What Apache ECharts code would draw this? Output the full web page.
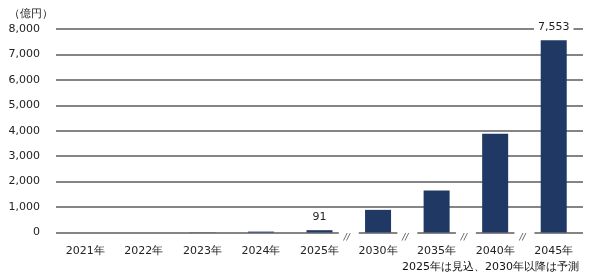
<!DOCTYPE html>
<html>
<head>
<meta charset="utf-8">
<script src="https://cdn.jsdelivr.net/npm/echarts@6/dist/echarts.min.js"></script>
<style>html,body{margin:0;padding:0;background:#fff}#c{width:590px;height:280px}</style>
</head>
<body>
<div id="c"></div>
<script>
const categories = ['2021年','2022年','2023年','2024年','2025年','2030年','2035年','2040年','2045年'];
const values = [0, 0, 8, 35, 91, 890, 1650, 3880, 7553];
const labeledIdx = [4, 8];
const breakAfter = [4, 5, 6, 7];
const unitLabel = '（億円）';
const footnote = '2025年は見込、2030年以降は予測';

const FONT = 'DejaVu Sans';
const chart = echarts.init(document.getElementById('c'));
chart.setOption({
  animation: false,
  backgroundColor: '#fff',
  title: [
    { text: unitLabel, left: 4, top: 4, textStyle: { fontFamily: FONT, fontSize: 11, fontWeight: 'normal', color: '#222' } },
    { text: footnote, right: 6, bottom: 2, textStyle: { fontFamily: FONT, fontSize: 11, fontWeight: 'normal', color: '#111' } }
  ],
  grid: { left: 56, right: 7, top: 29, bottom: 47.5 },
  xAxis: {
    type: 'category', data: categories,
    axisLine: { show: false }, axisTick: { show: false },
    axisLabel: { fontFamily: FONT, fontSize: 11, color: '#222', margin: 13 }
  },
  yAxis: {
    type: 'value', min: 0, max: 8000, interval: 1000,
    axisLine: { show: false }, axisTick: { show: false },
    axisLabel: { fontFamily: FONT, fontSize: 11, color: '#222', margin: 16,
      formatter: v => v.toLocaleString('en-US') },
    splitLine: { lineStyle: { color: '#858585', width: 2 } }
  },
  series: [
    {
      type: 'bar', barWidth: 26, z: 2,
      itemStyle: { color: '#1f3864' },
      data: values.map((v, i) => labeledIdx.includes(i) ? {
        value: v,
        label: { show: true, position: 'top', distance: 6, fontFamily: FONT, fontSize: 11, color: '#222',
          backgroundColor: '#fff', padding: [3, 4, 2, 4],
          formatter: p => p.value.toLocaleString('en-US') }
      } : v)
    },
    {
      type: 'custom', z: 5, silent: true,
      data: breakAfter.map(i => [i]),
      renderItem: function (params, api) {
        const i = api.value(0);
        const p1 = api.coord([i, 0]);
        const p2 = api.coord([i + 1, 0]);
        const x = (p1[0] + p2[0]) / 2;
        const y = p1[1];
        return {
          type: 'group',
          children: [
            { type: 'rect', shape: { x: x - 10, y: y - 2, width: 20, height: 4 }, style: { fill: '#fff' } },
            { type: 'text', style: { text: '//', x: x - 2, y: y + 5, align: 'center', verticalAlign: 'middle',
              font: 'italic 9px DejaVu Sans', fill: '#555' } }
          ]
        };
      }
    }
  ]
});
</script>
</body>
</html>
